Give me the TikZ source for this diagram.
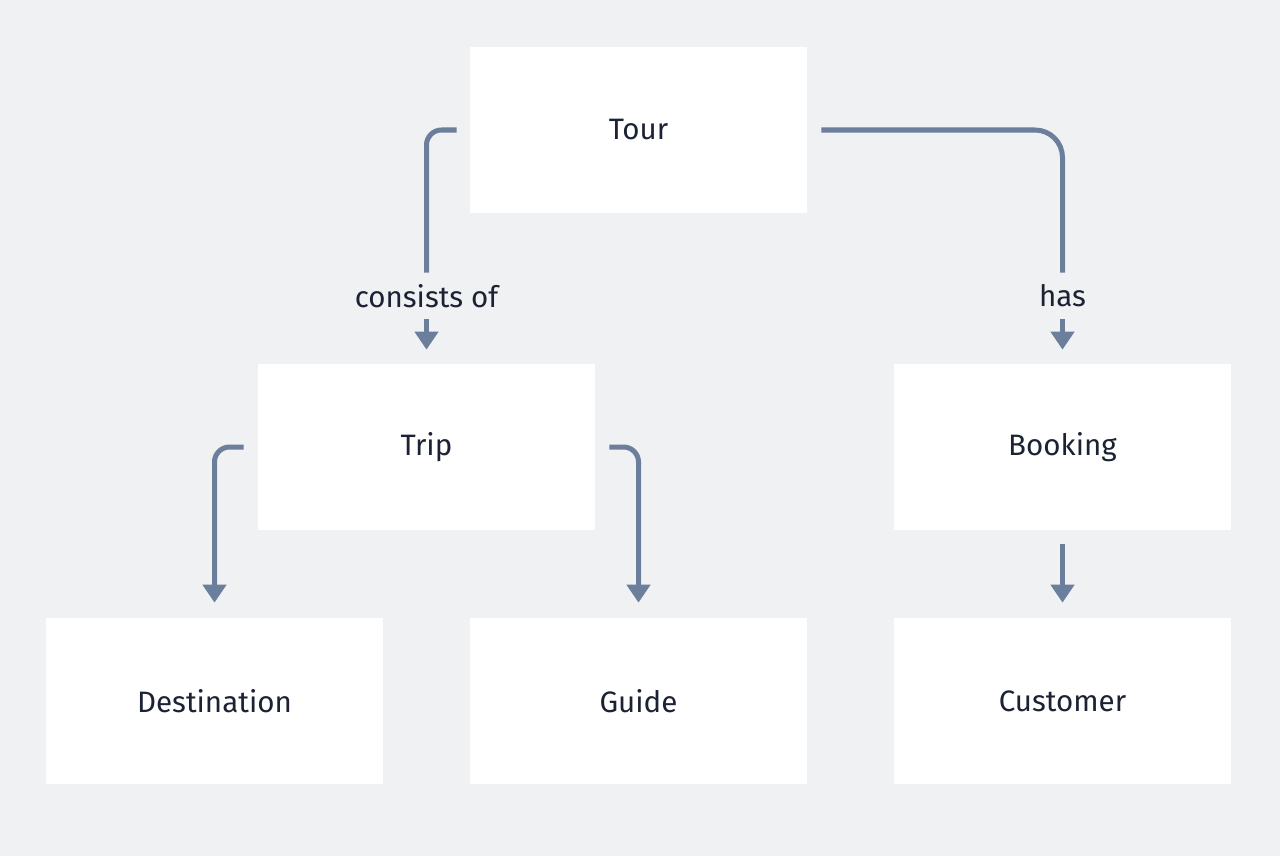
\documentclass[tikz,border=0pt]{standalone}
\usepackage{fontspec}
\setmainfont{Fira Sans}
\usetikzlibrary{arrows.meta}

\definecolor{bg}{HTML}{F0F1F3}
\definecolor{wire}{HTML}{6B7F9C}
\definecolor{ink}{HTML}{1B2233}

\begin{document}
\begin{tikzpicture}[>={Triangle[width=0.46cm, length=0.36cm]},
  box/.style={fill=white, minimum width=6.74cm, minimum height=3.32cm,
    inner sep=0pt, text=ink, font=\fontsize{16.8}{20}\selectfont},
  rel/.style={draw=wire, line width=0.1cm},
  lbl/.style={minimum height=0.92cm, inner sep=0pt, text=ink,
    font=\fontsize{16.8}{20}\selectfont}]
  \fill[bg] (0,0) rectangle (25.6,-17.12);
  \useasboundingbox (0,0) rectangle (25.6,-17.12);
  % entities
  \node[box] (tour) at (12.77,-2.6) {Tour};
  \node[box] (trip) at (8.53,-8.94) {Trip};
  \node[box] (booking) at (21.25,-8.94) {Booking};
  \node[box] (destination) at (4.29,-14.02) {Destination};
  \node[box] (guide) at (12.77,-14.02) {Guide};
  \node[box] (customer) at (21.25,-14.02) {Customer};
  % relation labels
  \node[lbl] (consists) at (8.53,-5.92) {consists of};
  \node[lbl] (has) at (21.25,-5.92) {has};
  % Tour -> Trip
  \draw[rel, rounded corners=0.3cm, shorten <=0.26cm] (tour.west) -| (consists.north);
  \draw[rel, ->, shorten >=0.28cm] (consists.south) -- (trip.north);
  % Tour -> Booking
  \draw[rel, rounded corners=0.55cm, shorten <=0.28cm] (tour.east) -| (has.north);
  \draw[rel, ->, shorten >=0.28cm] (has.south) -- (booking.north);
  % Trip -> Destination, Guide
  \draw[rel, ->, rounded corners=0.3cm, shorten <=0.28cm, shorten >=0.3cm]
    (trip.west) -| (destination.north);
  \draw[rel, ->, rounded corners=0.3cm, shorten <=0.28cm, shorten >=0.3cm]
    (trip.east) -| (guide.north);
  % Booking -> Customer
  \draw[rel, ->, shorten <=0.28cm, shorten >=0.3cm] (booking.south) -- (customer.north);
\end{tikzpicture}
\end{document}
